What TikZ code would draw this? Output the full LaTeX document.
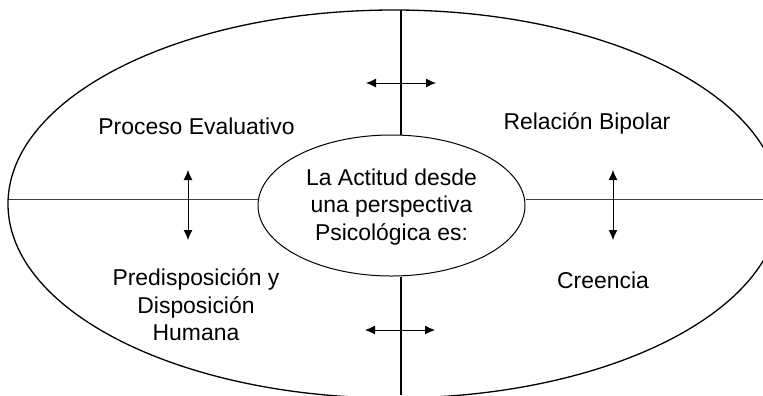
\documentclass[tikz,border=0pt]{standalone}
\usepackage{fontspec}
\setmainfont{Liberation Sans}
\usetikzlibrary{shapes.geometric,arrows.meta}
\begin{document}
\begin{tikzpicture}[x=1bp,y=-1bp,
  lbl/.style={font=\fontsize{23}{27.5}\selectfont, align=center, inner sep=0pt},
  ring/.style={draw=black, line width=1.3bp, ellipse, inner sep=0pt},
  divider/.style={draw=black!75, line width=0.9bp},
  axis/.style={draw=black, line width=1.3bp},
  dbl/.style={draw=black, line width=1bp, {Latex[length=10bp,width=9bp]}-{Latex[length=10bp,width=9bp]}}]
\useasboundingbox (0,0) rectangle (763,395);
\clip (0,0) rectangle (763,395);
% outer ellipse
\node[ring, minimum width=772bp, minimum height=388bp] (outer) at (394,204) {};
% inner ellipse
\node[ring, line width=1bp, minimum width=267bp, minimum height=141bp] (inner) at (391.5,205.5) {};
\node[lbl] (center) at (391.5,207) {La Actitud desde\\una perspectiva\\Psicológica es:};
% dividers
\coordinate (hl) at (9,199);
\coordinate (hr) at (763,199);
\coordinate (vt) at (401,10);
\coordinate (vb) at (401,395);
\draw[divider] (hl) -- (inner.west |- hl);
\draw[divider] (inner.east |- hr) -- (hr);
\draw[axis] (vt) -- (vt |- inner.north);
\draw[axis] (vb |- inner.south) -- (vb);
% labels
\node[lbl, anchor=base] (pe) at (196.5,134) {Proceso Evaluativo};
\node[lbl, anchor=base] (rb) at (587,129.5) {Relación Bipolar};
\node[lbl, anchor=base] (cr) at (603,288) {Creencia};
\node[lbl] (pd) at (196,305) {Predisposición y\\Disposición\\Humana};
% arrows
\coordinate (la1) at (188,170); \coordinate (la2) at (188,240);
\coordinate (ra1) at (613,170); \coordinate (ra2) at (613,240);
\coordinate (ta1) at (366,83); \coordinate (ta2) at (436,83);
\coordinate (ba1) at (365,330); \coordinate (ba2) at (435,330);
\draw[dbl] (la1) -- (la2);
\draw[dbl] (ra1) -- (ra2);
\draw[dbl] (ta1) -- (ta2);
\draw[dbl] (ba1) -- (ba2);
\end{tikzpicture}
\end{document}
